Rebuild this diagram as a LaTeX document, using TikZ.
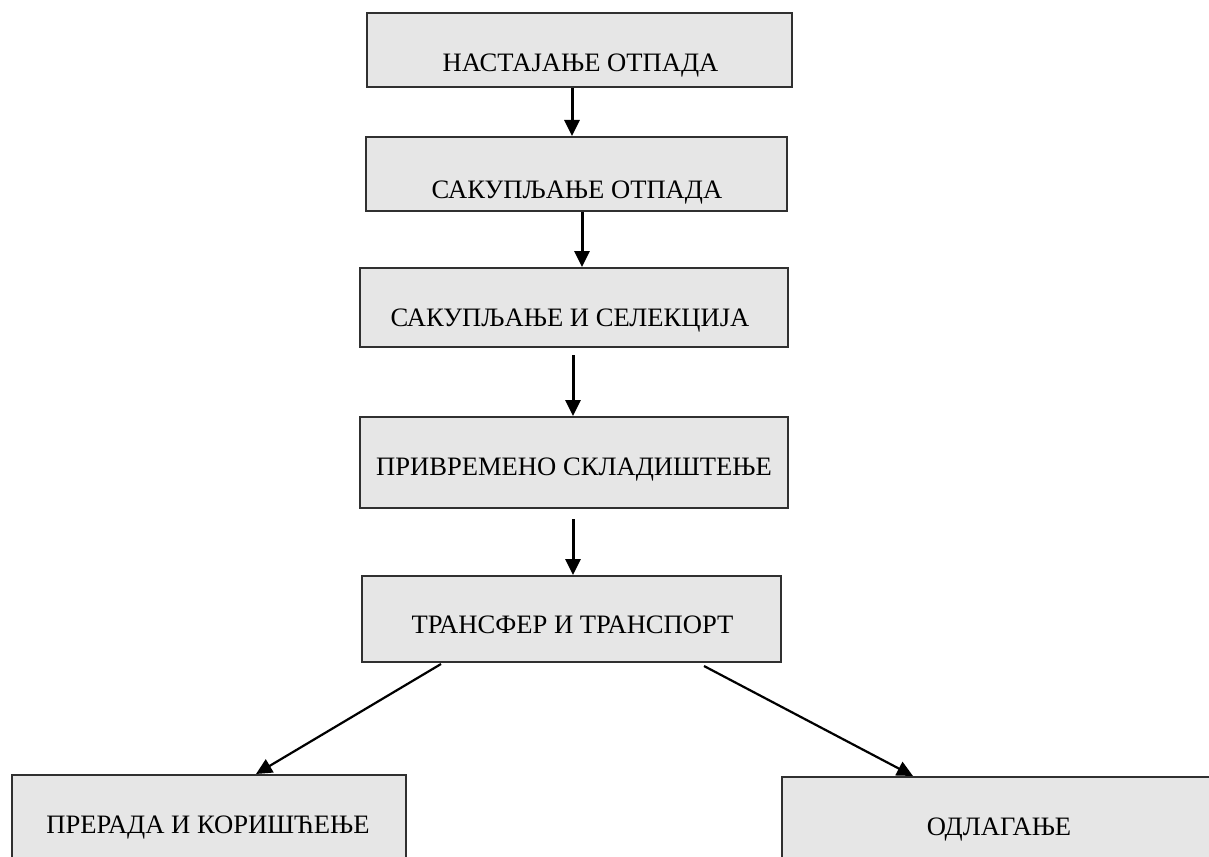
\documentclass[tikz,border=0pt]{standalone}
\usepackage{fontspec}
\setmainfont{Liberation Serif}
\usetikzlibrary{calc,arrows.meta}
\definecolor{boxfill}{HTML}{E6E6E6}
\definecolor{boxline}{HTML}{303030}
\tikzset{
  stepbox/.style={draw=boxline, fill=boxfill, line width=1pt, inner sep=0pt, rectangle},
  lbl/.style={anchor=base, inner sep=0pt, font=\fontsize{13.3}{16}\selectfont},
  vflow/.style={line width=1.5pt, -{Triangle[length=8pt,width=7.5pt]}},
  dflow/.style={line width=1.1pt, -{Triangle[length=8pt,width=7.5pt]}}
}
\begin{document}
\begin{tikzpicture}[x=0.5pt,y=-0.5pt]
\useasboundingbox (0,0) rectangle (1209,856);
\begin{scope}
\clip (0,0) rectangle (1209,856);
\node[stepbox, minimum width=212.5pt, minimum height=37pt] (n1) at (579.5,50) {};
\node[stepbox, minimum width=210.5pt, minimum height=37pt] (n2) at (576.5,174) {};
\node[stepbox, minimum width=214pt, minimum height=39.5pt] (n3) at (574,307.5) {};
\node[stepbox, minimum width=214pt, minimum height=45.5pt] (n4) at (574,462.5) {};
\node[stepbox, minimum width=209.5pt, minimum height=43pt] (n5) at (571.5,619) {};
\node[stepbox, minimum width=197pt, minimum height=60pt] (n6) at (209,835) {};
\node[stepbox, minimum width=216.5pt, minimum height=60pt] (n7) at (998.5,837) {};
\end{scope}
\node[lbl] (t1) at (580.5,72) {НАСТАЈАЊЕ ОТПАДА};
\node[lbl] (t2) at (577,198) {САКУПЉАЊЕ ОТПАДА};
\node[lbl] (t3) at (570,326) {САКУПЉАЊЕ И СЕЛЕКЦИЈА};
\node[lbl] (t4) at (574,475) {ПРИВРЕМЕНО СКЛАДИШТЕЊЕ};
\node[lbl] (t5) at (572.5,633) {ТРАНСФЕР И ТРАНСПОРТ};
\node[lbl] (t6) at (208,833) {ПРЕРАДА И КОРИШЋЕЊЕ};
\node[lbl] (t7) at (999,835) {ОДЛАГАЊЕ};
\draw[vflow] ($(n1.south)+(-7.5,0)$) -- ($(n2.north)+(-4.5,0)$);
\draw[vflow] ($(n2.south)+(5.5,0)$) -- ($(n3.north)+(8,0)$);
\draw[vflow] ($(n3.south)+(-1,7)$) -- ($(n4.north)+(-1,0)$);
\draw[vflow] ($(n4.south)+(-1,10)$) -- ($(n5.north)+(1.5,0)$);
\draw[dflow] ($(n5.south)+(-130.5,1)$) -- ($(n6.north)+(47,0)$);
\draw[dflow] ($(n5.south)+(132.5,3)$) -- ($(n7.north)+(-85.5,0)$);
\end{tikzpicture}
\end{document}
